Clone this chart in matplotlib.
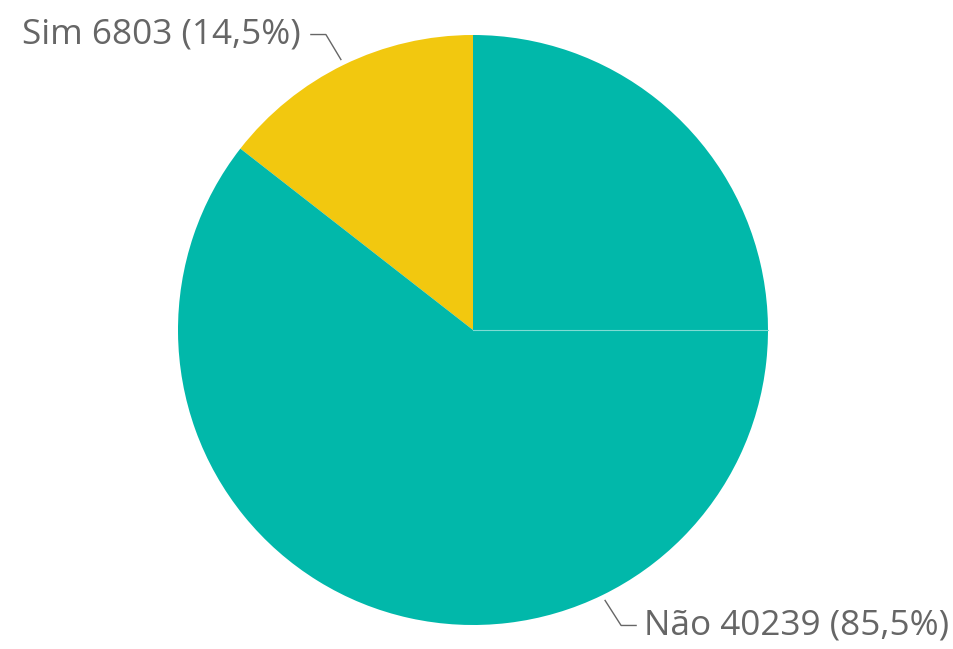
import numpy as np
import matplotlib
matplotlib.use("Agg")
import matplotlib.pyplot as plt

# dados
labels = ["Sim", "Não"]
counts = [6803, 40239]
pct_labels = ["14,5%", "85,5%"]
colors = ["#F2C80F", "#01B8AA"]

W, H = 954, 649
fig = plt.figure(figsize=(W / 100, H / 100), dpi=100)
ax = fig.add_axes([0, 0, 1, 1])

cx, cy, r = 473, H - 330, 295
wedges, _ = ax.pie(counts, colors=colors, startangle=90, counterclock=True,
                   center=(cx, cy), radius=r, frame=True)
ax.set_xlim(0, W)
ax.set_ylim(0, H)
ax.set_aspect("equal")
ax.axis("off")

# linha fina clara às 3 horas (como na referência)
ax.plot([cx, cx + r], [cy, cy], color="#7fdcd4", lw=0.8)

txt_color = "#666666"
font = "Open Sans"
fs = 25.3

# rótulos com linhas de chamada
for w, lab, n, p in zip(wedges, labels, counts, pct_labels):
    ang = np.deg2rad((w.theta1 + w.theta2) / 2)
    x0 = cx + (r + 6) * np.cos(ang)
    y0 = cy + (r + 6) * np.sin(ang)
    text = f"{lab} {n} ({p})"
    if np.cos(ang) < 0:
        # rótulo superior esquerdo
        x1, y1 = x0 - 15, y0 + 25
        x2 = x1 - 15
        ax.plot([x0, x1, x2], [y0, y1, y1], color=txt_color, lw=1)
        ax.text(x2 - 10, y1, text, ha="right", va="center", fontsize=fs,
                color=txt_color, family=font)
    else:
        x1, y1 = x0 + 16, y0 - 25
        x2 = x1 + 15
        ax.plot([x0, x1, x2], [y0, y1, y1], color=txt_color, lw=1)
        ax.text(x2 + 8, y1, text, ha="left", va="center", fontsize=fs,
                color=txt_color, family=font)

fig.savefig("out.png", dpi=100)
